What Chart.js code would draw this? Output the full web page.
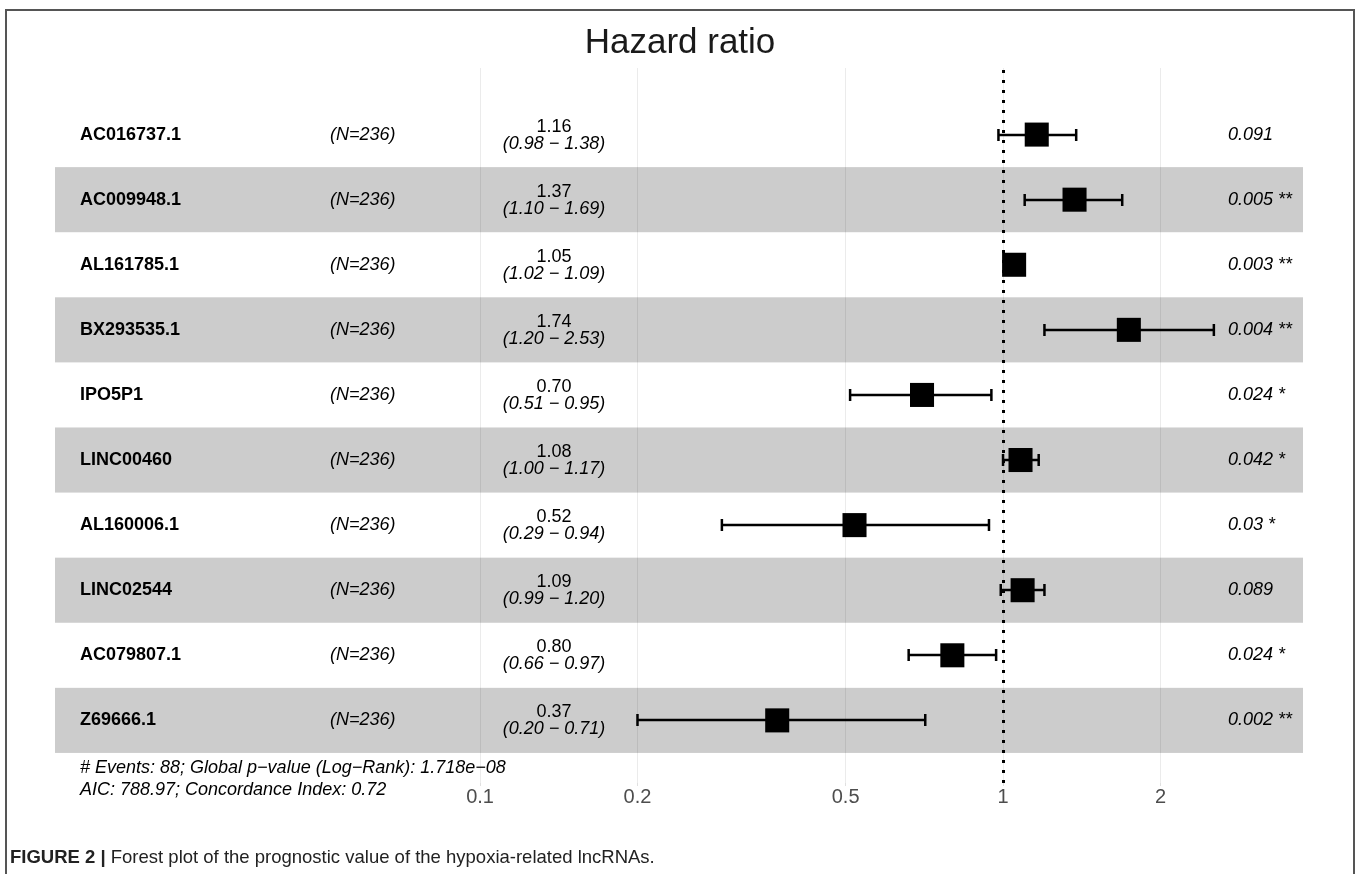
<!DOCTYPE html>
<html>
<head>
<meta charset="utf-8">
<title>Hazard ratio</title>
<script src="https://cdn.jsdelivr.net/npm/chart.js@4.4.1/dist/chart.umd.min.js"></script>
<style>
  html, body { margin: 0; padding: 0; background: #fff; }
  #wrap { width: 1358px; height: 874px; position: relative; }
</style>
</head>
<body>
<div id="wrap"><canvas id="forest" width="1358" height="874"></canvas></div>
<script>
// Cox model results, one row per lncRNA (top to bottom)
const genes = ['AC016737.1', 'AC009948.1', 'AL161785.1', 'BX293535.1', 'IPO5P1',
  'LINC00460', 'AL160006.1', 'LINC02544', 'AC079807.1', 'Z69666.1'];
const sampleN = [236, 236, 236, 236, 236, 236, 236, 236, 236, 236];
const hazard = [1.16, 1.37, 1.05, 1.74, 0.70, 1.08, 0.52, 1.09, 0.80, 0.37];
const ciLow = [0.98, 1.10, 1.02, 1.20, 0.51, 1.00, 0.29, 0.99, 0.66, 0.20];
const ciHigh = [1.38, 1.69, 1.09, 2.53, 0.95, 1.17, 0.94, 1.20, 0.97, 0.71];
const pValues = ['0.091', '0.005', '0.003', '0.004', '0.024', '0.042', '0.03', '0.089', '0.024', '0.002'];
const signif = ['', '**', '**', '**', '*', '*', '*', '', '*', '**'];
const axisTicks = [0.1, 0.2, 0.5, 1, 2];
const footNotes = [
  '# Events: 88; Global p\u2212value (Log\u2212Rank): 1.718e\u221208',
  'AIC: 788.97; Concordance Index: 0.72'
];

const FONT = '"Liberation Sans", Arial, Helvetica, sans-serif';

// striped rows + white page
const bandsPlugin = {
  id: 'bands',
  beforeDraw(chart) {
    const ctx = chart.ctx;
    const y = chart.scales.y;
    const area = chart.chartArea;
    ctx.save();
    ctx.fillStyle = '#ffffff';
    ctx.fillRect(0, 0, chart.width, chart.height);
    ctx.fillStyle = '#cccccc';
    genes.forEach((g, i) => {
      if (i % 2 === 1) {
        const top = y.getPixelForValue(i - 0.5);
        const bot = y.getPixelForValue(i + 0.5);
        ctx.fillRect(area.left, top, area.right - area.left, bot - top);
      }
    });
    ctx.restore();
  }
};

// reference line at HR = 1 and the confidence interval whiskers
const whiskerPlugin = {
  id: 'whiskers',
  beforeDatasetsDraw(chart) {
    const ctx = chart.ctx;
    const x = chart.scales.x;
    const y = chart.scales.y;
    const area = chart.chartArea;
    ctx.save();
    const x1 = Math.round(x.getPixelForValue(1)) + 0.5;
    ctx.strokeStyle = '#000';
    ctx.lineWidth = 3;
    ctx.setLineDash([3, 7]);
    ctx.beginPath();
    ctx.moveTo(x1, area.top + 2);
    ctx.lineTo(x1, area.bottom + 3);
    ctx.stroke();
    ctx.setLineDash([]);

    ctx.lineWidth = 2.5;
    genes.forEach((g, i) => {
      const yc = Math.round(y.getPixelForValue(i));
      const xl = x.getPixelForValue(ciLow[i]);
      const xh = x.getPixelForValue(ciHigh[i]);
      ctx.beginPath();
      ctx.moveTo(xl, yc);
      ctx.lineTo(xh, yc);
      ctx.moveTo(xl, yc - 6);
      ctx.lineTo(xl, yc + 6);
      ctx.moveTo(xh, yc - 6);
      ctx.lineTo(xh, yc + 6);
      ctx.stroke();
    });
    ctx.restore();
  }
};

// table columns, title, footnotes, caption and frame
const textPlugin = {
  id: 'tableText',
  afterDraw(chart) {
    const ctx = chart.ctx;
    const y = chart.scales.y;
    ctx.save();
    ctx.textBaseline = 'middle';
    ctx.fillStyle = '#000';

    ctx.textAlign = 'center';
    ctx.font = '35px ' + FONT;
    ctx.fillStyle = '#1a1a1a';
    ctx.fillText('Hazard ratio', 680, 43);

    genes.forEach((g, i) => {
      const yc = y.getPixelForValue(i);
      ctx.fillStyle = '#000';
      ctx.textAlign = 'left';
      ctx.font = 'bold 18px ' + FONT;
      ctx.fillText(g, 80, yc);

      ctx.font = 'italic 18px ' + FONT;
      ctx.fillText('(N=' + sampleN[i] + ')', 330, yc);

      ctx.textAlign = 'center';
      ctx.font = '18px ' + FONT;
      ctx.fillText(hazard[i].toFixed(2), 554, yc - 8);
      ctx.font = 'italic 18px ' + FONT;
      ctx.fillText('(' + ciLow[i].toFixed(2) + ' \u2212 ' + ciHigh[i].toFixed(2) + ')', 554, yc + 9);

      ctx.textAlign = 'left';
      ctx.fillText(pValues[i] + (signif[i] ? ' ' + signif[i] : ''), 1228, yc);
    });

    ctx.font = 'italic 18px ' + FONT;
    ctx.textAlign = 'left';
    ctx.fillText(footNotes[0], 80, 768);
    ctx.fillText(footNotes[1], 80, 790);

    // figure caption
    const capFont = '"Liberation Sans Narrow", "Liberation Sans", Arial, sans-serif';
    ctx.font = 'bold 18.5px ' + capFont;
    ctx.fillStyle = '#222';
    const lead = 'FIGURE 2 | ';
    ctx.fillText(lead, 10, 858);
    const w = ctx.measureText(lead).width;
    ctx.font = '18.5px ' + capFont;
    ctx.fillText('Forest plot of the prognostic value of the hypoxia-related lncRNAs.', 10 + w, 858);

    // frame around the figure
    ctx.strokeStyle = '#555';
    ctx.lineWidth = 2;
    ctx.beginPath();
    ctx.moveTo(6, 874);
    ctx.lineTo(6, 10);
    ctx.lineTo(1354, 10);
    ctx.lineTo(1354, 874);
    ctx.stroke();
    ctx.restore();
  }
};

new Chart(document.getElementById('forest'), {
  type: 'scatter',
  data: {
    datasets: [{
      label: 'Hazard ratio',
      data: hazard.map((h, i) => ({ x: h, y: i })),
      pointStyle: 'rect',
      pointRadius: 17,
      backgroundColor: '#000',
      borderWidth: 0
    }]
  },
  options: {
    responsive: false,
    animation: false,
    layout: { padding: { left: 55, right: 55, top: 68, bottom: 66 } },
    plugins: {
      legend: { display: false },
      tooltip: { enabled: false },
      title: { display: false }
    },
    scales: {
      x: {
        type: 'logarithmic',
        min: 0.01539,
        max: 3.746,
        afterBuildTicks: scale => { scale.ticks = axisTicks.map(v => ({ value: v })); },
        border: { display: false },
        grid: { color: 'rgba(0,0,0,0.08)', lineWidth: 1, tickLength: 3, tickColor: 'rgba(0,0,0,0.12)' },
        ticks: {
          autoSkip: false,
          maxRotation: 0,
          color: '#4d4d4d',
          padding: -1,
          font: { family: FONT, size: 20 },
          callback: v => String(v)
        }
      },
      y: {
        type: 'linear',
        reverse: true,
        min: -1.023,
        max: 9.962,
        display: false
      }
    }
  },
  plugins: [bandsPlugin, whiskerPlugin, textPlugin]
});
</script>
</body>
</html>
